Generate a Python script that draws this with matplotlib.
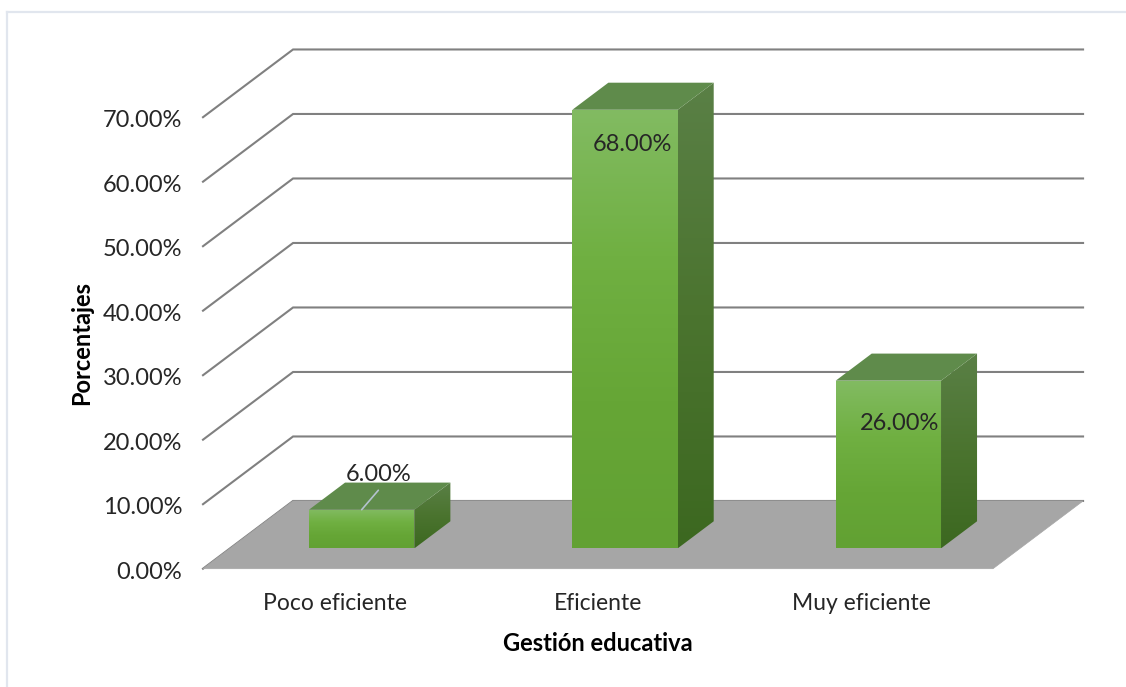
import numpy as np
import matplotlib.pyplot as plt
from matplotlib.colors import LinearSegmentedColormap
from matplotlib.lines import Line2D
from matplotlib.patches import Polygon
from matplotlib.transforms import ScaledTranslation

# --- data ---
categories = ["Poco eficiente", "Eficiente", "Muy eficiente"]
values = [6.0, 68.0, 26.0]
y_ticks = [0, 10, 20, 30, 40, 50, 60, 70]
x_title = "Gestión educativa"
y_title = "Porcentajes"
# ------------

W, H = 1126, 687
plt.rcParams['font.family'] = ['Lato', 'DejaVu Sans']

# oblique projection of the depth axis, in data units
depth_x = 0.342
depth_y = 10.5
bar_width = 0.40
bar_start = 0.30   # where the bar sits along the depth axis
bar_depth = 0.40

# label offsets from the front-top centre of each bar, in points
label_offsets = [(12, 25.5), (5, -25), (8, -30.5)]

text_color = "#262626"
grid_color = "#808080"

fig = plt.figure(figsize=(W / 100, H / 100), dpi=100)
ax = fig.add_axes([203 / W, (H - 568.7) / H, 790 / W, 451.5 / H])
xlim = (-0.5, 2.5)
ylim = (0, 70)


def project(x, y, d):
    return (x + d * depth_x, y + d * depth_y)


def gradient_face(corners, stops, zorder):
    """Fill a polygon with a vertical colour gradient."""
    poly = Polygon(corners, closed=True, facecolor="none", edgecolor="none",
                   transform=ax.transData, zorder=zorder)
    ax.add_patch(poly)
    xs = [c[0] for c in corners]
    ys = [c[1] for c in corners]
    cmap = LinearSegmentedColormap.from_list("face", stops)
    grad = np.linspace(0, 1, 256).reshape(-1, 1)
    im = ax.imshow(grad, cmap=cmap, aspect="auto", origin="upper",
                   extent=(min(xs), max(xs), min(ys), max(ys)), zorder=zorder)
    im.set_clip_box(fig.bbox)
    im.set_clip_path(poly)


# walls: each level runs up the left side, then along the back
for t in y_ticks:
    x0, y0 = project(xlim[0], t, 0)
    x1, y1 = project(xlim[0], t, 1)
    x2, y2 = project(xlim[1], t, 1)
    ax.plot([x0, x1, x2], [y0, y1, y2], color=grid_color, lw=1.5,
            clip_on=False, zorder=1, solid_joinstyle="miter")

# floor
floor = [project(xlim[0], 0, 0), project(xlim[1], 0, 0),
         project(xlim[1], 0, 1), project(xlim[0], 0, 1)]
ax.add_patch(Polygon(floor, closed=True, facecolor="#a6a6a6", edgecolor="#a6a6a6",
                     lw=0.5, clip_on=False, zorder=2))

for i, v in enumerate(values):
    left = i - bar_width / 2
    right = i + bar_width / 2
    d0 = bar_start
    d1 = bar_start + bar_depth

    front = [project(left, 0, d0), project(right, 0, d0),
             project(right, v, d0), project(left, v, d0)]
    side = [project(right, 0, d0), project(right, 0, d1),
            project(right, v, d1), project(right, v, d0)]
    top = [project(left, v, d0), project(right, v, d0),
           project(right, v, d1), project(left, v, d1)]

    z = 3 + i
    gradient_face(side, ["#5a8046", "#4b742f", "#3c6820"], z)
    gradient_face(front, ["#82bb62", "#70b042", "#66a636", "#62a133"], z + 0.1)
    ax.add_patch(Polygon(top, closed=True, facecolor="#5f8b4b", edgecolor="none",
                         clip_on=False, zorder=z + 0.2))

    fx, fy = project(i, v, d0)
    ax.annotate(f"{v:.2f}%", (fx, fy), xytext=label_offsets[i],
                textcoords="offset points", ha="center", va="center",
                fontsize=17, color=text_color, annotation_clip=False, zorder=10)

# leader for the small bar, whose label sits above it
fx, fy = project(0, values[0], bar_start)
ax.annotate("", (fx, fy), xytext=(12, 14), textcoords="offset points",
            arrowprops=dict(arrowstyle="-", color="#b4c2cf", lw=1.2,
                            shrinkA=0, shrinkB=0),
            annotation_clip=False, zorder=10)

ax.set_xlim(*xlim)
ax.set_ylim(*ylim)
ax.set_xticks(range(len(categories)), categories)
ax.set_yticks(y_ticks, [f"{t:.2f}%" for t in y_ticks])
ax.tick_params(axis="both", length=0, labelcolor=text_color)
ax.tick_params(axis="y", pad=15, labelsize=17)
ax.tick_params(axis="x", pad=17.5, labelsize=16.5)

# nudge the value labels down so they sit level with the wall lines
nudge = ScaledTranslation(0, -1.5 / 100, fig.dpi_scale_trans)
for lab in ax.get_yticklabels():
    lab.set_transform(lab.get_transform() + nudge)

ax.set_xlabel(x_title, fontsize=17, fontweight="bold", color="black", labelpad=13)
ax.set_ylabel(y_title, fontsize=17, fontweight="bold", color="black", labelpad=7)
for s in ax.spines.values():
    s.set_visible(False)
ax.patch.set_visible(False)

# thin frame around the chart area
border = "#e1e6ee"
fig.add_artist(Line2D([7.5 / W, 7.5 / W], [0, 1 - 12 / H], color=border, lw=1.6))
fig.add_artist(Line2D([7.5 / W, 1], [1 - 12 / H, 1 - 12 / H], color=border, lw=1.6))

fig.savefig("out.png", dpi=100)
